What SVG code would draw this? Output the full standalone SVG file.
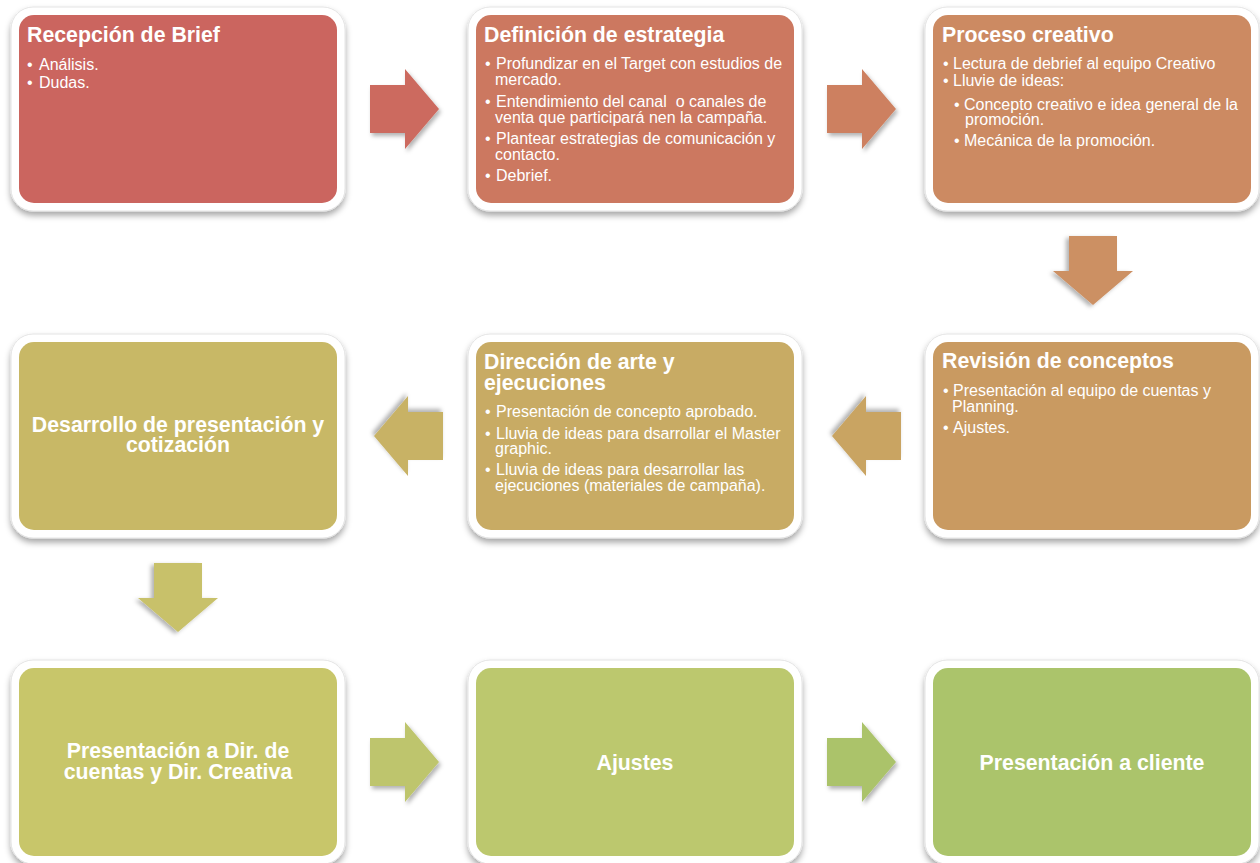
<svg xmlns="http://www.w3.org/2000/svg" width="1260" height="863" viewBox="0 0 1260 863">
  <defs>
    <filter id="frameShadow" x="-10%" y="-10%" width="120%" height="125%">
      <feDropShadow dx="0" dy="4" stdDeviation="3" flood-color="#000" flood-opacity="0.35"/>
    </filter>
    <filter id="arrowShadow" x="-20%" y="-20%" width="150%" height="150%">
      <feDropShadow dx="2" dy="3" stdDeviation="2" flood-color="#000" flood-opacity="0.3"/>
    </filter>
    <!-- right-pointing block arrow, origin at shaft top-left corner area -->
    <path id="arrowRight" d="M0,16 L35,16 L35,0 L69,40 L35,80 L35,64 L0,64 Z"/>
  </defs>
  <style>
    .frame { fill: #ffffff; stroke: #e4e4e4; stroke-width: 1; filter: url(#frameShadow); }
    .title { font-family: "Liberation Sans", Arial, sans-serif; font-size: 21.3px; font-weight: bold; fill: #ffffff; }
    .item { font-family: "Liberation Sans", Arial, sans-serif; font-size: 16px; fill: #ffffff; white-space: pre; }
    .center { text-anchor: middle; }
    .arrow { filter: url(#arrowShadow); }
  </style>
  <rect width="1260" height="863" fill="#ffffff"/>

  <!-- connectors -->
  <g id="connectors">
    <use href="#arrowRight" class="arrow" fill="#CC6B5F" transform="translate(370,69)"/>
    <use href="#arrowRight" class="arrow" fill="#CD8060" transform="translate(827,69)"/>
    <use href="#arrowRight" class="arrow" fill="#CC9063" transform="translate(1133,236) rotate(90)"/>
    <use href="#arrowRight" class="arrow" fill="#C9A462" transform="translate(901,476) rotate(180)"/>
    <use href="#arrowRight" class="arrow" fill="#C8B265" transform="translate(443,476) rotate(180)"/>
    <use href="#arrowRight" class="arrow" fill="#C8C16A" transform="translate(218,563) rotate(90)"/>
    <use href="#arrowRight" class="arrow" fill="#BEC56D" transform="translate(370,722)"/>
    <use href="#arrowRight" class="arrow" fill="#ABC36B" transform="translate(827,722)"/>
  </g>

  <!-- row 1 -->
  <g id="recepcion-brief">
    <rect class="frame" x="11" y="7" width="334" height="204" rx="22"/>
    <rect x="19" y="15" width="318" height="188" rx="15" fill="#CB655F"/>
    <text class="title" x="27" y="42">Recepción de Brief</text>
    <text class="item" x="27" y="70">•</text><text class="item" x="39" y="70">Análisis.</text>
    <text class="item" x="27" y="88">•</text><text class="item" x="39" y="88">Dudas.</text>
  </g>

  <g id="definicion-estrategia">
    <rect class="frame" x="468" y="7" width="334" height="204" rx="22"/>
    <rect x="476" y="15" width="318" height="188" rx="15" fill="#CC7860"/>
    <text class="title" x="484" y="42">Definición de estrategia</text>
    <text class="item" x="485" y="69">•</text><text class="item" x="496" y="69">Profundizar en el Target con estudios de</text>
    <text class="item" x="495" y="85">mercado.</text>
    <text class="item" x="485" y="107">•</text><text class="item" x="496" y="107">Entendimiento del canal  o canales de</text>
    <text class="item" x="495" y="123">venta que participará nen la campaña.</text>
    <text class="item" x="485" y="144">•</text><text class="item" x="496" y="144">Plantear estrategias de comunicación y</text>
    <text class="item" x="495" y="160">contacto.</text>
    <text class="item" x="485" y="181">•</text><text class="item" x="496" y="181">Debrief.</text>
  </g>

  <g id="proceso-creativo">
    <rect class="frame" x="925" y="7" width="334" height="204" rx="22"/>
    <rect x="933" y="15" width="318" height="188" rx="15" fill="#CC8A62"/>
    <text class="title" x="942" y="42">Proceso creativo</text>
    <text class="item" x="943" y="69">•</text><text class="item" x="953" y="69">Lectura de debrief al equipo Creativo</text>
    <text class="item" x="943" y="86">•</text><text class="item" x="953" y="86">Lluvie de ideas:</text>
    <text class="item" x="954" y="110">•</text><text class="item" x="964" y="110">Concepto creativo e idea general de la</text>
    <text class="item" x="965" y="125">promoción.</text>
    <text class="item" x="954" y="146">•</text><text class="item" x="964" y="146">Mecánica de la promoción.</text>
  </g>

  <!-- row 2 -->
  <g id="revision-conceptos">
    <rect class="frame" x="925" y="334" width="334" height="204" rx="22"/>
    <rect x="933" y="342" width="318" height="188" rx="15" fill="#C99A61"/>
    <text class="title" x="942" y="368">Revisión de conceptos</text>
    <text class="item" x="943" y="396">•</text><text class="item" x="953" y="396">Presentación al equipo de cuentas y</text>
    <text class="item" x="952" y="412">Planning.</text>
    <text class="item" x="943" y="433">•</text><text class="item" x="953" y="433">Ajustes.</text>
  </g>

  <g id="direccion-arte">
    <rect class="frame" x="468" y="334" width="334" height="204" rx="22"/>
    <rect x="476" y="342" width="318" height="188" rx="15" fill="#C8AB64"/>
    <text class="title" x="484" y="369">Dirección de arte y</text>
    <text class="title" x="484" y="390">ejecuciones</text>
    <text class="item" x="485" y="417">•</text><text class="item" x="496" y="417">Presentación de concepto aprobado.</text>
    <text class="item" x="485" y="439">•</text><text class="item" x="496" y="439">Lluvia de ideas para dsarrollar el Master</text>
    <text class="item" x="495" y="454">graphic.</text>
    <text class="item" x="485" y="475">•</text><text class="item" x="496" y="475">Lluvia de ideas para desarrollar las</text>
    <text class="item" x="495" y="491">ejecuciones (materiales de campaña).</text>
  </g>

  <g id="desarrollo-presentacion">
    <rect class="frame" x="11" y="334" width="334" height="204" rx="22"/>
    <rect x="19" y="342" width="318" height="188" rx="15" fill="#C8B866"/>
    <text class="title center" x="178" y="432">Desarrollo de presentación y</text>
    <text class="title center" x="178" y="452">cotización</text>
  </g>

  <!-- row 3 -->
  <g id="presentacion-direcciones">
    <rect class="frame" x="11" y="660" width="334" height="204" rx="22"/>
    <rect x="19" y="668" width="318" height="188" rx="15" fill="#C8C66A"/>
    <text class="title center" x="178" y="758">Presentación a Dir. de</text>
    <text class="title center" x="178" y="779">cuentas y Dir. Creativa</text>
  </g>

  <g id="ajustes">
    <rect class="frame" x="468" y="660" width="334" height="204" rx="22"/>
    <rect x="476" y="668" width="318" height="188" rx="15" fill="#BCC86E"/>
    <text class="title center" x="635" y="770">Ajustes</text>
  </g>

  <g id="presentacion-cliente">
    <rect class="frame" x="925" y="660" width="334" height="204" rx="22"/>
    <rect x="933" y="668" width="318" height="188" rx="15" fill="#ABC46B"/>
    <text class="title center" x="1092" y="770">Presentación a cliente</text>
  </g>
</svg>
